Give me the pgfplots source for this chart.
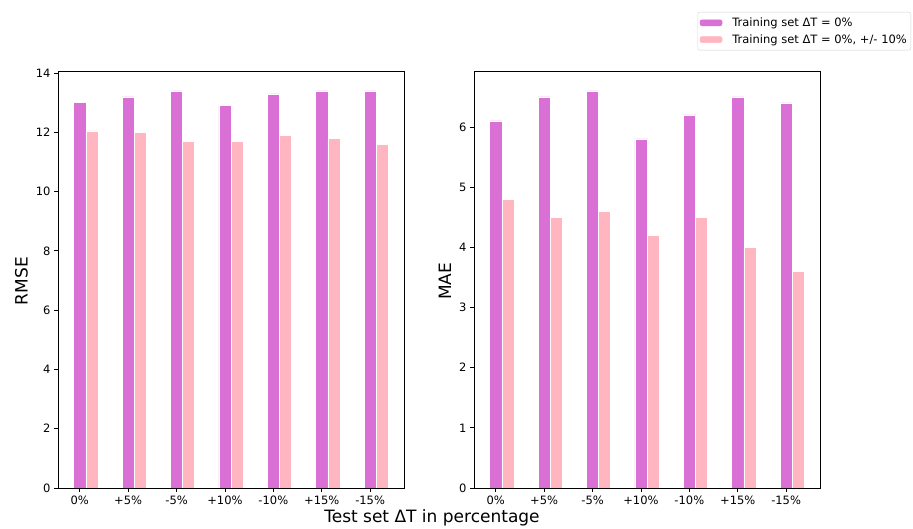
\documentclass[border=0pt]{standalone}
\usepackage{fontspec}
\setmainfont{DejaVu Sans}
\usepackage{pgfplots}
\pgfplotsset{compat=1.18}
\definecolor{orchid}{HTML}{DA70D6}
\definecolor{lpink}{HTML}{FFB6C1}
\pgfplotsset{
  mybase/.style={
    scale only axis, width=346pt, height=417pt, anchor=south west,
    xmin=-0.45, xmax=6.7, ymin=0,
    xtick={0,...,6},
    xticklabels={0\%,+5\%,-5\%,+10\%,-10\%,+15\%,-15\%},
    tick align=outside, xtick pos=bottom, ytick pos=left,
    major tick length=4pt,
    tick style={black, line width=0.8pt},
    axis line style={black, line width=0.8pt},
    ticklabel style={font=\fontsize{11.5}{13}\selectfont},
    /pgf/number format/assume math mode=true,
  },
  pbar/.style={ybar, bar width=0.25, bar shift=0, fill=orchid, draw=white, line width=0.5pt,
    legend image code/.code={\fill[orchid] (0pt,-3pt) rectangle (22pt,3pt); \path (30pt,0pt);}},
  kbar/.style={ybar, bar width=0.25, bar shift=0.25, fill=lpink, draw=white, line width=0.5pt,
    legend image code/.code={\fill[lpink] (0pt,-3pt) rectangle (22pt,3pt); \path (30pt,0pt);}},
}
\begin{document}
\begin{tikzpicture}
\useasboundingbox (0,0) rectangle (913pt,529pt);
\begin{axis}[mybase, at={(58pt,41pt)}, ymax=14.07,
  ytick={0,2,4,6,8,10,12,14},
  ylabel={RMSE},
  every axis y label/.style={at={(axis description cs:-0.1055,0.496)}, rotate=90, anchor=center, font=\fontsize{17}{19}\selectfont},
]
\addplot[pbar] coordinates {(0,13.0) (1,13.2) (2,13.4) (3,12.9) (4,13.3) (5,13.4) (6,13.4)};
\addplot[kbar] coordinates {(0,12.05) (1,12.0) (2,11.7) (3,11.7) (4,11.9) (5,11.8) (6,11.6)};
\end{axis}
\begin{axis}[mybase, at={(474pt,41pt)}, ymax=6.93,
  ytick={0,1,2,3,4,5,6},
  ylabel={MAE},
  every axis y label/.style={at={(axis description cs:-0.0838,0.496)}, rotate=90, anchor=center, font=\fontsize{17}{19}\selectfont},
  legend style={at={(axis description cs:1.263,1.1415)}, anchor=north east,
    draw=gray!35, rounded corners=2pt, fill=white,
    font=\fontsize{11.5}{13}\selectfont, row sep=2.5pt, inner xsep=2pt, inner ysep=3.5pt},
  legend cell align=left,
]
\addplot[pbar] coordinates {(0,6.1) (1,6.5) (2,6.6) (3,5.8) (4,6.2) (5,6.5) (6,6.4)};
\addlegendentry{Training set ΔT = 0\%}
\addplot[kbar] coordinates {(0,4.8) (1,4.5) (2,4.6) (3,4.2) (4,4.5) (5,4.0) (6,3.6)};
\addlegendentry{Training set ΔT = 0\%, +/- 10\%}
\end{axis}
\node[anchor=base, font=\fontsize{17}{19}\selectfont] at (432pt,6pt) {Test set ΔT in percentage};
\end{tikzpicture}
\end{document}
